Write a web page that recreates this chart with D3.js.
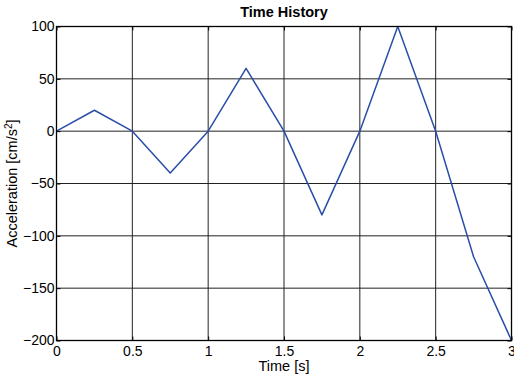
<!DOCTYPE html>
<html>
<head>
<meta charset="utf-8">
<script src="https://cdn.jsdelivr.net/npm/d3@7"></script>
<style>
  body { margin: 0; background: #fff; }
  text { font-family: "Liberation Sans", Arial, sans-serif; }
</style>
</head>
<body>
<div id="chart"></div>
<script>
// time [s] and acceleration [cm/s2]
const temps = [0, 0.25, 0.5, 0.75, 1, 1.25, 1.5, 1.75, 2, 2.25, 2.5, 2.75, 3];
const acceleracio = [0, 20, 0, -40, 0, 60, 0, -80, 0, 100, 0, -120, -200];
const ticsX = [0, 0.5, 1, 1.5, 2, 2.5, 3];
const ticsY = [100, 50, 0, -50, -100, -150, -200];

const amplada = 514, alçada = 376;
const marge = {dalt: 26.5, dreta: 2.5, baix: 35.5, esquerra: 56.5};

const svg = d3.select("#chart").append("svg")
  .attr("width", amplada)
  .attr("height", alçada);

const x = d3.scaleLinear().domain([0, 3]).range([marge.esquerra, amplada - marge.dreta]);
const y = d3.scaleLinear().domain([-200, 100]).range([alçada - marge.baix, marge.dalt]);

// graella
const g = svg.append("g");
g.selectAll(".gx").data(ticsX).enter().append("line")
  .attr("x1", d => x(d)).attr("x2", d => x(d))
  .attr("y1", y(100)).attr("y2", y(-200))
  .attr("stroke", "#222").attr("stroke-width", 1);
g.selectAll(".gy").data(ticsY).enter().append("line")
  .attr("x1", x(0)).attr("x2", x(3))
  .attr("y1", d => y(d)).attr("y2", d => y(d))
  .attr("stroke", "#222").attr("stroke-width", 1);

// línia
svg.append("path")
  .datum(temps.map((t, i) => [t, acceleracio[i]]))
  .attr("d", d3.line().x(d => x(d[0])).y(d => y(d[1])))
  .attr("fill", "none")
  .attr("stroke", "#2a4ea8")
  .attr("stroke-width", 1.5)
  .attr("stroke-linejoin", "round");

// marc
svg.append("rect")
  .attr("x", x(0)).attr("y", y(100))
  .attr("width", x(3) - x(0)).attr("height", y(-200) - y(100))
  .attr("fill", "none").attr("stroke", "#000").attr("stroke-width", 1.3);

// eixos
const eixX = svg.append("g")
  .attr("transform", `translate(0,${y(-200)})`)
  .call(d3.axisBottom(x).tickValues(ticsX).tickSize(-4).tickPadding(6).tickFormat(d3.format("")));
const eixY = svg.append("g")
  .attr("transform", `translate(${x(0)},0)`)
  .call(d3.axisLeft(y).tickValues(ticsY).tickSize(-4).tickPadding(2).tickFormat(d3.format("")));
svg.append("g")
  .attr("transform", `translate(0,${y(100)})`)
  .call(d3.axisTop(x).tickValues(ticsX).tickSize(-4).tickFormat(""));
svg.append("g")
  .attr("transform", `translate(${x(3)},0)`)
  .call(d3.axisRight(y).tickValues(ticsY).tickSize(-4).tickFormat(""));

svg.selectAll(".domain").remove();
svg.selectAll(".tick line").attr("stroke", "#000");
[eixX, eixY].forEach(e => e.selectAll("text")
  .attr("fill", "#000").style("font-size", "14px")
  .style("font-family", "'Liberation Sans', Arial, sans-serif"));

// títols
svg.append("text")
  .attr("x", (x(0) + x(3)) / 2).attr("y", 17)
  .attr("text-anchor", "middle")
  .style("font-size", "14.5px").style("font-weight", "bold")
  .text("Time History");

svg.append("text")
  .attr("x", (x(0) + x(3)) / 2).attr("y", 371)
  .attr("text-anchor", "middle")
  .style("font-size", "14.5px")
  .text("Time [s]");

const ety = svg.append("text")
  .attr("transform", `translate(17,${(y(100) + y(-200)) / 2}) rotate(-90)`)
  .attr("text-anchor", "middle")
  .style("font-size", "14.5px");
ety.append("tspan").text("Acceleration [cm/s");
ety.append("tspan").attr("dy", -5).style("font-size", "10px").text("2");
ety.append("tspan").attr("dy", 5).text("]");
</script>
</body>
</html>
